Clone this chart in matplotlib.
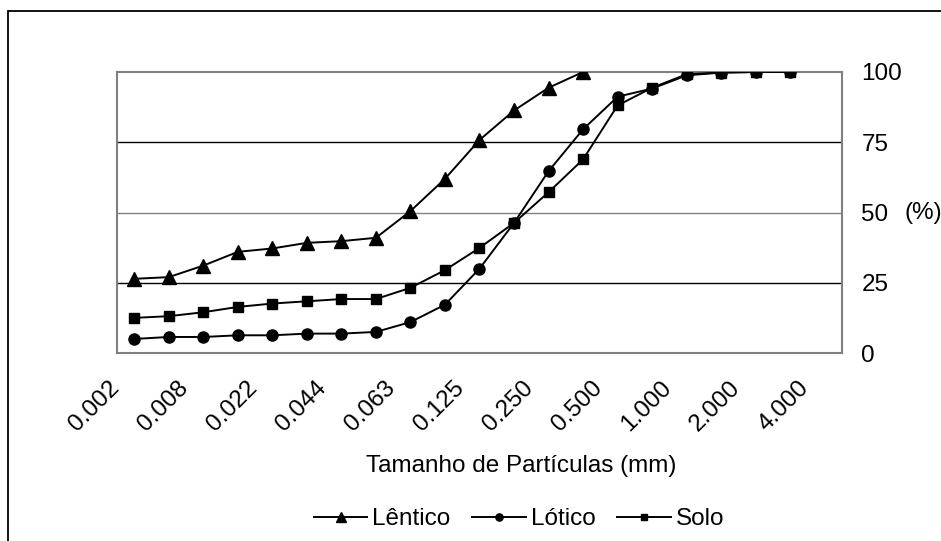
import numpy as np
import matplotlib
matplotlib.use('Agg')
import matplotlib.pyplot as plt
from matplotlib.patches import Rectangle
from matplotlib.transforms import ScaledTranslation, blended_transform_factory

plt.rcParams['font.family'] = ['Liberation Sans', 'DejaVu Sans']

# dados (% acumulado por classe de tamanho)
tick_labels = ['0.002', '0.008', '0.022', '0.044', '0.063', '0.125',
               '0.250', '0.500', '1.000', '2.000', '4.000']
n_classes = 21
lentico = [26.4, 27.0, 31.1, 36.0, 37.2, 39.2, 39.8, 41.0, 50.5, 62.0,
           75.8, 86.3, 94.4, 100]
lotico = [5.0, 5.7, 5.7, 6.3, 6.3, 6.9, 6.9, 7.5, 11.0, 17.2, 30.0, 46.3,
          64.7, 79.6, 91.2, 94.1, 98.8, 99.8, 100, 100]
solo = [12.5, 13.1, 14.5, 16.4, 17.6, 18.4, 19.2, 19.2, 23.2, 29.5, 37.4,
        46.3, 57.2, 68.9, 88.1, 94.4, 99.2, 99.8, 100, 100]

W, H = 941, 541
fig = plt.figure(figsize=(W / 100, H / 100), dpi=100)
ax = fig.add_axes([117 / W, 1 - 353 / H, (842 - 117) / W, (353 - 72) / H])

fs = 17.5
ax.plot(np.arange(len(lentico)), lentico, color='black', lw=1.4,
        marker='^', ms=10.5, label='Lêntico', zorder=3)
ax.plot(np.arange(len(lotico)), lotico, color='black', lw=1.4,
        marker='o', ms=8, label='Lótico', zorder=3)
ax.plot(np.arange(len(solo)), solo, color='black', lw=1.4,
        marker='s', ms=7.5, label='Solo', zorder=3)

ax.set_xlim(-0.5, n_classes - 0.5)
ax.set_ylim(0, 100)

# linhas de grade
for v, c in [(25, 'black'), (50, '#808080'), (75, 'black')]:
    ax.axhline(v, color=c, lw=1.0, zorder=1)
for s in ax.spines.values():
    s.set_color('#808080')
    s.set_linewidth(1.5)

ax.yaxis.tick_right()
ax.set_yticks([0, 25, 50, 75, 100])
ax.tick_params(axis='y', length=0, pad=14, labelsize=fs)
ax.text(905 / W, 50, '(%)',
        transform=blended_transform_factory(fig.transFigure, ax.transData),
        fontsize=fs, va='center', ha='left')

ax.set_xticks(np.arange(0, n_classes, 2))
ax.set_xticklabels(tick_labels, rotation=45, ha='right', va='top', fontsize=fs)
ax.tick_params(axis='x', length=0, pad=17)
off = ScaledTranslation(-11 / 100, 0, fig.dpi_scale_trans)
for lab in ax.get_xticklabels():
    lab.set_transform(lab.get_transform() + off)

fig.text(521 / W, 1 - 466 / H, 'Tamanho de Partículas (mm)', fontsize=fs,
         ha='center', va='center')

leg = fig.legend(loc='center', bbox_to_anchor=(519 / W, 1 - 519 / H), ncol=3,
                 frameon=False, fontsize=fs, markerscale=0.65,
                 handlelength=2.2, handletextpad=0.2, columnspacing=0.9)

# borda externa do gráfico
fig.patches.append(Rectangle((8 / W, -0.1), 2, 1 - 11 / H + 0.1,
                             transform=fig.transFigure, fill=False,
                             edgecolor='black', lw=1.3))

fig.savefig('out.png', dpi=100)
